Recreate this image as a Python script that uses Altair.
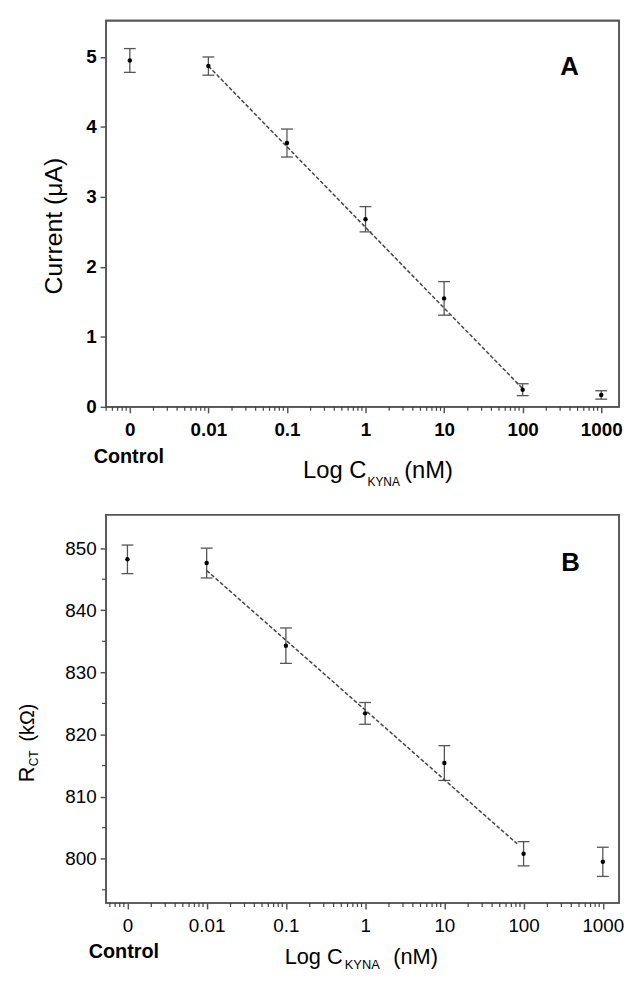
import altair as alt
import pandas as pd

# ---------------- data ----------------
conc = [0.001, 0.01, 0.1, 1, 10, 100, 1000]          # 0.001 = position of "Control"
tick_labels = ["0", "0.01", "0.1", "1", "10", "100", "1000"]

current = [4.95, 4.87, 3.77, 2.68, 1.55, 0.245, 0.17]
current_err = [0.17, 0.13, 0.20, 0.18, 0.24, 0.085, 0.06]

rct = [848.2, 847.6, 834.3, 823.4, 815.4, 800.8, 799.5]
rct_err = [2.3, 2.4, 2.85, 1.75, 2.8, 1.95, 2.35]

fitA_x = [0.01, 100]
fitA_y = [4.87, 0.26]
fitB_x = [0.01, 83]
fitB_y = [846.4, 802.4]

yA_ticks = [0, 1, 2, 3, 4, 5]
yB_ticks = [800, 810, 820, 830, 840, 850]
yB_minor = [795, 805, 815, 825, 835, 845]
minor_mult = [2, 3, 4, 5, 6, 7, 8, 9]
decades = [0.0001, 0.001, 0.01, 0.1, 1, 10, 100, 1000]

# ---------------- layout constants ----------------
FONT = "Liberation Sans"
W = 518
SPACER_X = -97.5

dfA = pd.DataFrame({"conc": conc, "val": current,
                    "lo": [v - e for v, e in zip(current, current_err)],
                    "hi": [v + e for v, e in zip(current, current_err)]})
dfB = pd.DataFrame({"conc": conc, "val": rct,
                    "lo": [v - e for v, e in zip(rct, rct_err)],
                    "hi": [v + e for v, e in zip(rct, rct_err)]})
fitA = pd.DataFrame({"conc": fitA_x, "val": fitA_y})
fitB = pd.DataFrame({"conc": fitB_x, "val": fitB_y})
minorYB = pd.DataFrame({"val": yB_minor})
one = pd.DataFrame({"k": [0]})

label_list = "[" + ",".join("'%s'" % t for t in tick_labels) + "]"
label_expr = label_list + "[round(log(datum.value)/LN10)+3]"


def panel(df, fit, xdom, ydom, yticks, H, weight, letter, letter_xy, ytitle_layers,
          ctrl_xy, title_pos, title_size, sub_size, bottom_ext, extra_layers):
    x_minor = [m * d for d in decades for m in minor_mult if xdom[0] <= m * d <= xdom[1]]
    minorX = pd.DataFrame({"conc": x_minor})

    xe = alt.X("conc:Q",
               scale=alt.Scale(type="log", domain=xdom, nice=False),
               axis=alt.Axis(values=conc, labelExpr=label_expr, tickSize=6,
                             labelPadding=8, labelFontWeight=weight, title=None,
                             labelFlush=False, labelOverlap=False))

    def ye(field):
        return alt.Y(field, type="quantitative",
                     scale=alt.Scale(domain=ydom, nice=False, zero=False),
                     axis=alt.Axis(values=yticks, tickSize=6, labelPadding=4,
                                   labelFontWeight=weight, title=None,
                                   labelFlush=False, labelOverlap=False))

    base = alt.Chart(df)
    bars = base.mark_rule(color="#555", strokeWidth=1.3).encode(x=xe, y=ye("lo"), y2="hi")
    cap_lo = base.mark_tick(orient="horizontal", size=12, thickness=1.3, color="#555",
                            opacity=1).encode(x=xe, y=ye("lo"))
    cap_hi = base.mark_tick(orient="horizontal", size=12, thickness=1.3, color="#555",
                            opacity=1).encode(x=xe, y=ye("hi"))
    pts = base.mark_point(filled=True, size=20, color="black", opacity=1).encode(x=xe, y=ye("val"))
    line = alt.Chart(fit).mark_line(color="#444", strokeWidth=1.5, strokeDash=[4, 2]).encode(
        x=xe, y=ye("val"))
    mticks = alt.Chart(minorX).mark_rule(color="#444", strokeWidth=1.2).encode(
        x=xe, y=alt.value(H), y2=alt.value(H + 4))
    frame = alt.Chart(one).mark_rect(filled=False, stroke="#555", strokeWidth=1.6).encode(
        x=alt.value(0), x2=alt.value(W), y=alt.value(0), y2=alt.value(H))

    def txt(s, x, y, size, weight="normal", align="center", baseline="alphabetic", angle=0):
        kw = dict(text=s, fontSize=size, font=FONT, fontWeight=weight, align=align,
                  baseline=baseline, color="black")
        if angle:
            kw["angle"] = angle
        return alt.Chart(one).mark_text(**kw).encode(x=alt.value(x), y=alt.value(y))

    lab = txt(letter, letter_xy[0], letter_xy[1], 26, "bold", baseline="middle")
    ctrl = txt("Control", ctrl_xy[0], ctrl_xy[1], 20, "bold")
    tx, ty, kx, ky, nx = title_pos
    t1 = txt("Log C", tx, ty, title_size, align="right")
    t2 = txt("KYNA", kx, ky, sub_size, align="left")
    t3 = txt("(nM)", nx, ty, title_size, align="left")
    yt = [txt(*a) for a in ytitle_layers]

    spacer = alt.Chart(one).mark_rule(strokeOpacity=0, strokeWidth=1).encode(
        x=alt.value(SPACER_X), y=alt.value(0), y2=alt.value(H + bottom_ext))

    layers = [frame, bars, cap_lo, cap_hi, line, pts, mticks, lab, ctrl, t1, t2, t3, spacer] + yt
    layers += extra_layers(xe, ye, H)
    return alt.layer(*layers).properties(width=W, height=H)


panelA = panel(
    dfA, fitA, [10 ** -3.3025, 10 ** 3.227], [0, 5.52], yA_ticks, 390, "bold",
    "A", (468, 47),
    [("Current (\u03bcA)", -52, 207.5, 25, "normal", "center", "middle", 270)],
    (23, 446.7), (263, 461.7, 264, 470, 301), 24, 12, 88,
    lambda xe, ye, H: [])

panelB = panel(
    dfB, fitB, [10 ** -3.27, 10 ** 3.205], [792.87, 855.37], yB_ticks, 392, "normal",
    "B", (469, 49),
    [("R", -73, 270, 22, "normal", "left", "alphabetic", 270),
     ("CT", -69, 254, 12, "normal", "left", "alphabetic", 270),
     ("(k\u03a9)", -73, 229, 20, "normal", "left", "alphabetic", 270)],
    (18, 448), (239, 454, 241, 459, 290), 22, 13, 68,
    lambda xe, ye, H: [alt.Chart(minorYB).mark_rule(color="#444", strokeWidth=1.2).encode(
        y=ye("val"), x=alt.value(0), x2=alt.value(-4))])

chart = alt.vconcat(panelA, panelB, spacing=18).properties(
    padding={"left": 0, "top": 6, "right": 0, "bottom": 0}
).configure_view(
    stroke="#555", strokeWidth=1.6
).configure_axis(
    domain=False, grid=False, labelFont=FONT, labelFontSize=19, labelColor="black",
    tickColor="#555", tickWidth=1.5
)

chart.save("out.html", embed_options={"renderer": "svg", "actions": False})
